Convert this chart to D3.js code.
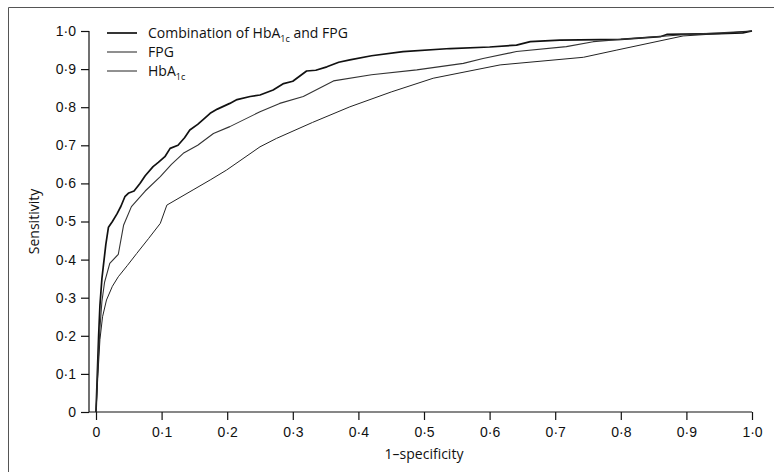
<!DOCTYPE html>
<html>
<head>
<meta charset="utf-8">
<script src="https://d3js.org/d3.v7.min.js"></script>
<style>
  body { margin: 0; background: #fff; }
  svg { display: block; font-family: "Open Sans", sans-serif; }
  .tick text { font-size: 14px; fill: #111; }
  .tick line { stroke: #111; stroke-width: 1.2; }
</style>
</head>
<body>
<svg id="roc" width="774" height="472"></svg>
<script>
// ROC points: 1-specificity (x) against sensitivity (y)
var comboX = [0, 0.002, 0.004, 0.006, 0.009, 0.011, 0.015, 0.019, 0.025, 0.032, 0.038, 0.044, 0.05, 0.058, 0.067, 0.075, 0.087, 0.095, 0.105, 0.113, 0.125, 0.135, 0.143, 0.155, 0.165, 0.174, 0.185, 0.204, 0.215, 0.235, 0.25, 0.27, 0.286, 0.3, 0.321, 0.335, 0.352, 0.37, 0.387, 0.42, 0.468, 0.54, 0.6, 0.641, 0.662, 0.707, 0.8, 0.86, 0.87, 0.95, 0.986, 1.0];
var comboY = [0, 0.10, 0.20, 0.28, 0.35, 0.38, 0.44, 0.485, 0.50, 0.52, 0.54, 0.565, 0.575, 0.58, 0.60, 0.62, 0.644, 0.655, 0.67, 0.692, 0.70, 0.72, 0.74, 0.755, 0.77, 0.784, 0.795, 0.81, 0.82, 0.828, 0.832, 0.845, 0.862, 0.868, 0.895, 0.897, 0.906, 0.918, 0.924, 0.935, 0.946, 0.954, 0.958, 0.963, 0.972, 0.976, 0.978, 0.985, 0.991, 0.993, 0.995, 1.0];

var fpgX = [0, 0.003, 0.006, 0.009, 0.013, 0.021, 0.034, 0.042, 0.054, 0.075, 0.098, 0.115, 0.133, 0.155, 0.179, 0.204, 0.25, 0.28, 0.316, 0.362, 0.42, 0.489, 0.56, 0.59, 0.641, 0.717, 0.758, 0.8, 0.895, 1.0];
var fpgY = [0, 0.12, 0.22, 0.29, 0.34, 0.39, 0.414, 0.49, 0.539, 0.58, 0.618, 0.65, 0.679, 0.70, 0.731, 0.749, 0.788, 0.81, 0.828, 0.869, 0.885, 0.898, 0.915, 0.928, 0.946, 0.959, 0.972, 0.978, 0.99, 1.0];

var hbaX = [0, 0.003, 0.006, 0.010, 0.016, 0.025, 0.034, 0.048, 0.062, 0.08, 0.098, 0.108, 0.125, 0.148, 0.175, 0.199, 0.25, 0.275, 0.33, 0.387, 0.45, 0.514, 0.616, 0.743, 0.794, 0.895, 0.95, 1.0];
var hbaY = [0, 0.10, 0.19, 0.25, 0.294, 0.33, 0.355, 0.385, 0.416, 0.455, 0.495, 0.543, 0.56, 0.583, 0.61, 0.635, 0.696, 0.718, 0.76, 0.801, 0.84, 0.876, 0.911, 0.931, 0.95, 0.987, 0.993, 1.0];

var ticks = [0, 0.1, 0.2, 0.3, 0.4, 0.5, 0.6, 0.7, 0.8, 0.9, 1.0];

var svg = d3.select("#roc");

var x = d3.scaleLinear().domain([0, 1]).range([96, 752]);
var y = d3.scaleLinear().domain([0, 1]).range([412, 31]);
var yAxisX = 89;

// decimal point printed as a middle dot
var fmt = function(d) { return d === 0 ? "0" : d3.format(".1f")(d).replace(".", "\u00b7"); };

// page frame (only top and left edges are on the page)
svg.append("path")
    .attr("d", "M8.5,472V7.5H774")
    .attr("fill", "none")
    .attr("stroke", "#555")
    .attr("stroke-width", 1);

// x axis
var gx = svg.append("g")
    .attr("transform", "translate(0," + y(0) + ")")
    .call(d3.axisBottom(x).tickValues(ticks).tickFormat(fmt).tickSize(8).tickPadding(7));
gx.select(".domain").remove();
gx.append("line")
    .attr("x1", yAxisX).attr("x2", x(1))
    .attr("stroke", "#111")
    .attr("stroke-width", 1.2);

// y axis
var gy = svg.append("g")
    .attr("transform", "translate(" + yAxisX + ",0)")
    .call(d3.axisLeft(y).tickValues(ticks).tickFormat(fmt).tickSize(8).tickPadding(5));
gy.select(".domain").remove();
gy.append("line")
    .attr("y1", y(0)).attr("y2", y(1))
    .attr("stroke", "#111")
    .attr("stroke-width", 1.2);

svg.append("text")
    .attr("transform", "translate(39," + ((y(0) + y(1)) / 2) + ") rotate(-90)")
    .attr("text-anchor", "middle")
    .attr("font-size", 14)
    .attr("fill", "#111")
    .text("Sensitivity");

svg.append("text")
    .attr("x", x(0.5))
    .attr("y", 459)
    .attr("text-anchor", "middle")
    .attr("font-size", 14)
    .attr("fill", "#111")
    .text("1\u2013specificity");

// curves
var series = [
  {name: "combo", xs: comboX, ys: comboY, color: "#111", width: 1.7},
  {name: "fpg", xs: fpgX, ys: fpgY, color: "#333", width: 1.1},
  {name: "hba", xs: hbaX, ys: hbaY, color: "#222", width: 1.0}
];

var line = d3.line()
    .x(function(d) { return x(d[0]); })
    .y(function(d) { return y(d[1]); });

series.forEach(function(s) {
  var pts = s.xs.map(function(v, i) { return [v, s.ys[i]]; });
  svg.append("path")
      .datum(pts)
      .attr("fill", "none")
      .attr("stroke", s.color)
      .attr("stroke-width", s.width)
      .attr("stroke-linejoin", "round")
      .attr("d", line);
});

// legend
var legend = svg.append("g").attr("font-size", 14).attr("fill", "#111");
var rows = [
  {label: ["Combination of HbA", "1c", " and FPG"], s: series[0]},
  {label: ["FPG"], s: series[1]},
  {label: ["HbA", "1c"], s: series[2]}
];
rows.forEach(function(r, i) {
  var ly = 33 + i * 19;
  legend.append("line")
      .attr("x1", 107).attr("x2", 137)
      .attr("y1", ly).attr("y2", ly)
      .attr("stroke", r.s.color)
      .attr("stroke-width", r.s.width);
  var t = legend.append("text")
      .attr("x", 148)
      .attr("y", ly + 5);
  r.label.forEach(function(part, j) {
    var ts = t.append("tspan").text(part);
    if (j === 1) ts.attr("font-size", 9).attr("dy", 4);
    if (j === 2) ts.attr("dy", -4);
  });
});
</script>
</body>
</html>
